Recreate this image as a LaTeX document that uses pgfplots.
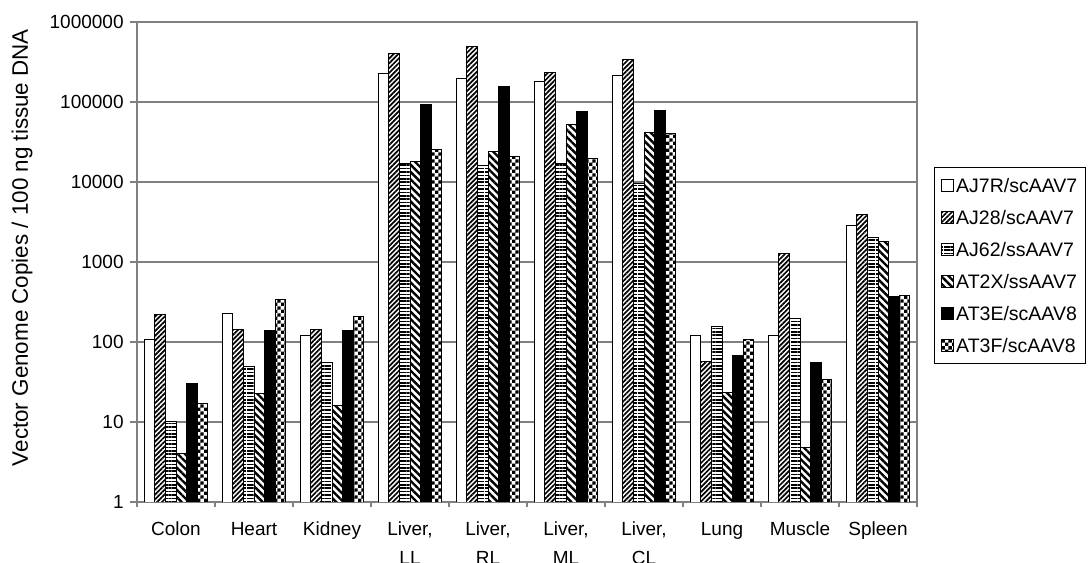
\documentclass[border=0pt]{standalone}
\usepackage{pgfplots}
\pgfplotsset{compat=1.18}
\usepackage{pgfplotstable}
\usepackage{fontspec}
\setmainfont{Liberation Sans}
\usetikzlibrary{patterns,patterns.meta}
\pgfdeclarepatternformonly{mycheck}{\pgfpointorigin}{\pgfpoint{3.4bp}{3.4bp}}{\pgfpoint{3.4bp}{3.4bp}}{%
  \pgfpathrectangle{\pgfpointorigin}{\pgfpoint{1.7bp}{1.7bp}}%
  \pgfpathrectangle{\pgfpoint{1.7bp}{1.7bp}}{\pgfpoint{1.7bp}{1.7bp}}%
  \pgfusepath{fill}}
\definecolor{gridgray}{gray}{0.5}

\pgfplotstableread{
x AJ7R AJ28 AJ62 AT2X AT3E AT3F
0 108 218 10 4 30 17
1 228 145 49 23 141 335
2 119 145 56 16 141 207
3 228000 406000 16800 17900 94400 25800
4 198000 501000 16000 24400 158000 20700
5 183000 237000 17100 52600 75000 19800
6 217000 335000 9620 41800 78000 40200
7 119 57 158 23.5 67 108
8 119 1260 198 4.8 55 34
9 2820 3870 2010 1800 368 379
}\data

\begin{document}
\begin{tikzpicture}
\begin{axis}[
  at={(68.5bp,30.5bp)}, anchor=south west,
  scale only axis, width=390bp, height=240bp,
  ymode=log, ymin=1, ymax=1000000,
  xmin=-0.5, xmax=9.5,
  ybar=0pt, bar width=5.33bp,
  ytick={1,10,100,1000,10000,100000,1000000},
  yticklabels={1,10,100,1000,10000,100000,1000000},
  yminorticks=false,
  ymajorgrids, grid style={gridgray, line width=0.7bp},
  xtick={0,...,9},
  xticklabels={{Colon\\\strut},{Heart\\\strut},{Kidney\\\strut},{Liver,\\LL},{Liver,\\RL},{Liver,\\ML},{Liver,\\CL},{Lung\\\strut},{Muscle\\\strut},{Spleen\\\strut}},
  major x tick style={draw=none},
  minor xtick={-0.5,0.5,...,9.5},
  tick align=outside, tick pos=left,
  major tick length=3.5bp, minor tick length=2.5bp,
  axis line style={gridgray, line width=0.7bp},
  tick style={gridgray, line width=0.7bp},
  yticklabel style={font=\fontsize{9.5bp}{11bp}\selectfont, inner sep=0pt, anchor=east, xshift=-3bp},
  xticklabel style={font=\fontsize{9.5bp}{14.5bp}\selectfont, align=center, inner sep=0pt, anchor=base, yshift=-27.85bp},
  ylabel={Vector Genome Copies / 100 ng tissue DNA},
  every axis y label/.style={at={(axis description cs:-0.1474,0.53)}, rotate=90, anchor=center, font=\fontsize{11.2bp}{13bp}\selectfont},
  every axis plot post/.append style={legend image code/.code={\draw[##1,line width=0.5bp] (0bp,-3bp) rectangle (6bp,3bp);}},
  legend style={at={(1.0218,0.697)}, anchor=north west, draw=black, line width=0.5bp,
    inner xsep=3.35bp, inner ysep=4bp,
    nodes={inner sep=1bp, text height=7.5bp, text depth=0.5bp},
    font=\fontsize{9.75bp}{11bp}\selectfont, row sep=6bp, column sep=0bp},
  legend cell align=left,
]
\addplot[draw=black, line width=0.5bp, fill=white] table[x=x,y=AJ7R]{\data};
\addplot[draw=black, line width=0.5bp, fill=white, postaction={pattern={Lines[angle=45,distance=1.7bp,line width=0.85bp]}}] table[x=x,y=AJ28]{\data};
\addplot[draw=black, line width=0.5bp, fill=white, postaction={pattern={Lines[angle=0,distance=1.7bp,line width=0.85bp]}}] table[x=x,y=AJ62]{\data};
\addplot[draw=black, line width=0.5bp, fill=white, postaction={pattern={Lines[angle=-45,distance=2.6bp,line width=1.2bp]}}] table[x=x,y=AT2X]{\data};
\addplot[draw=black, line width=0.5bp, fill=black] table[x=x,y=AT3E]{\data};
\addplot[draw=black, line width=0.5bp, fill=white, postaction={pattern=mycheck}] table[x=x,y=AT3F]{\data};
\legend{AJ7R/scAAV7,AJ28/scAAV7,AJ62/ssAAV7,AT2X/ssAAV7,AT3E/scAAV8,AT3F/scAAV8}
\end{axis}
\pgfresetboundingbox
\useasboundingbox (0,0) rectangle (544bp,281.5bp);
\end{tikzpicture}
\end{document}
